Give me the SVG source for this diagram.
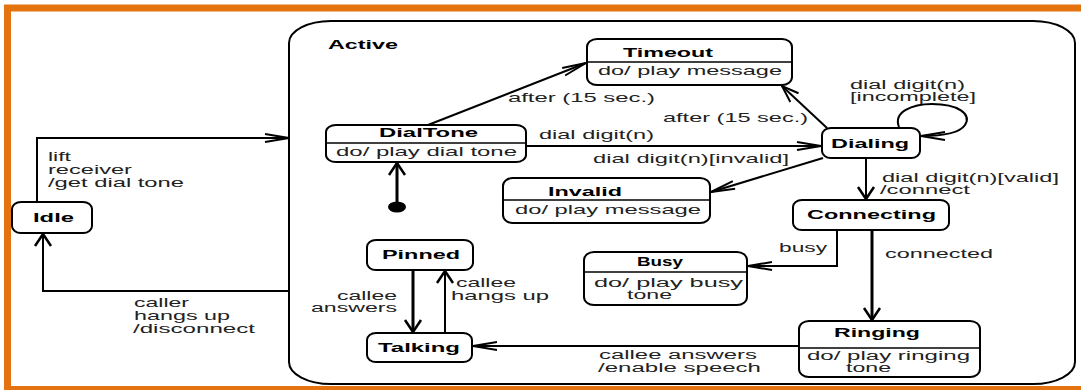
<svg xmlns="http://www.w3.org/2000/svg" width="1081" height="390" viewBox="0 0 1081 390">
  <style>
    text { font-family: "Liberation Sans", Arial, sans-serif; font-size: 13px; }
    .lbl { fill: #222; }
    .sm { font-size: 12px; }
    .nm { font-weight: bold; fill: #000; }
    .box { fill: #fff; stroke: #000; stroke-width: 2; }
    .div { stroke: #000; stroke-width: 1.5; }
    .edge { fill: none; stroke: #000; stroke-width: 2; }
    .thick { stroke-width: 3; }
  </style>
  <defs>
    <marker id="arrowH" markerUnits="userSpaceOnUse" viewBox="-30 -10 32 20" refX="0" refY="0" markerWidth="32" markerHeight="20" orient="auto">
      <path d="M-24,-4 L0,0 L-24,4" fill="none" stroke="#000" stroke-width="2"/>
    </marker>
    <marker id="arrowD" markerUnits="userSpaceOnUse" viewBox="-30 -10 32 20" refX="0" refY="0" markerWidth="32" markerHeight="20" orient="auto">
      <path d="M-17,-6 L0,0 L-17,6" fill="none" stroke="#000" stroke-width="2"/>
    </marker>
    <marker id="arrowV" markerUnits="userSpaceOnUse" viewBox="-30 -10 32 20" refX="0" refY="0" markerWidth="32" markerHeight="20" orient="auto">
      <path d="M-12,-8 L0,0 L-12,8" fill="none" stroke="#000" stroke-width="2.5"/>
    </marker>
  </defs>

  <rect width="1081" height="390" fill="#fff"/>
  <!-- outer frame -->
  <rect x="7.5" y="8" width="1100" height="381.5" fill="none" stroke="#e3720f" stroke-width="7"/>

  <!-- composite state -->
  <g id="active">
    <rect x="289" y="21" width="786" height="363" rx="42" ry="22" fill="none" stroke="#000" stroke-width="2"/>
    <text class="nm" x="328" y="49" textLength="70" lengthAdjust="spacingAndGlyphs">Active</text>
  </g>

  <g id="idle">
    <rect class="box" x="12" y="202" width="80" height="31" rx="9" ry="7"/>
    <text class="nm" x="33" y="222" textLength="41" lengthAdjust="spacingAndGlyphs">Idle</text>
  </g>

  <g id="dialtone">
    <rect class="box" x="326" y="125" width="200" height="37" rx="10" ry="7"/>
    <line class="div" x1="326" y1="143" x2="526" y2="143"/>
    <text class="nm" x="379" y="137" textLength="99" lengthAdjust="spacingAndGlyphs">DialTone</text>
    <text class="lbl" x="336" y="156" textLength="181" lengthAdjust="spacingAndGlyphs">do/ play dial tone</text>
  </g>

  <g id="initial">
    <ellipse cx="397" cy="207" rx="9" ry="5.5" fill="#000"/>
  </g>

  <g id="timeout">
    <rect class="box" x="587" y="39" width="205" height="46" rx="10" ry="8"/>
    <line class="div" x1="587" y1="62" x2="792" y2="62"/>
    <text class="nm" x="623" y="57" textLength="90" lengthAdjust="spacingAndGlyphs">Timeout</text>
    <text class="lbl" x="598" y="75" textLength="184" lengthAdjust="spacingAndGlyphs">do/ play message</text>
  </g>

  <g id="dialing">
    <rect class="box" x="822" y="128" width="98" height="30" rx="9" ry="7"/>
    <text class="nm" x="831" y="148" textLength="78" lengthAdjust="spacingAndGlyphs">Dialing</text>
  </g>

  <g id="invalid">
    <rect class="box" x="503" y="178" width="207" height="45" rx="10" ry="8"/>
    <line class="div" x1="503" y1="200" x2="710" y2="200"/>
    <text class="nm" x="548" y="196" textLength="74" lengthAdjust="spacingAndGlyphs">Invalid</text>
    <text class="lbl" x="515" y="214" textLength="186" lengthAdjust="spacingAndGlyphs">do/ play message</text>
  </g>

  <g id="connecting">
    <rect class="box" x="793" y="200" width="156" height="30" rx="9" ry="7"/>
    <text class="nm" x="807" y="219" textLength="129" lengthAdjust="spacingAndGlyphs">Connecting</text>
  </g>

  <g id="busy">
    <rect class="box" x="584" y="252" width="163" height="53" rx="10" ry="8"/>
    <line class="div" x1="584" y1="272" x2="747" y2="272"/>
    <text class="nm" x="637" y="266" textLength="46" lengthAdjust="spacingAndGlyphs">Busy</text>
    <text class="lbl sm" x="594" y="287" textLength="149" lengthAdjust="spacingAndGlyphs">do/ play busy</text>
    <text class="lbl sm" x="627" y="299" textLength="45" lengthAdjust="spacingAndGlyphs">tone</text>
  </g>

  <g id="ringing">
    <rect class="box" x="799" y="321" width="181" height="56" rx="10" ry="8"/>
    <line class="div" x1="799" y1="348" x2="980" y2="348"/>
    <text class="nm" x="834" y="337" textLength="86" lengthAdjust="spacingAndGlyphs">Ringing</text>
    <text class="lbl sm" x="807" y="360" textLength="163" lengthAdjust="spacingAndGlyphs">do/ play ringing</text>
    <text class="lbl sm" x="846" y="372" textLength="45" lengthAdjust="spacingAndGlyphs">tone</text>
  </g>

  <g id="pinned">
    <rect class="box" x="367" y="240" width="106" height="30" rx="9" ry="7"/>
    <text class="nm" x="382" y="259" textLength="78" lengthAdjust="spacingAndGlyphs">Pinned</text>
  </g>

  <g id="talking">
    <rect class="box" x="367" y="333" width="105" height="29" rx="9" ry="7"/>
    <text class="nm" x="378" y="352" textLength="82" lengthAdjust="spacingAndGlyphs">Talking</text>
  </g>

  <g id="connectors">
    <!-- Idle -> Active -->
    <path class="edge" d="M37,202 V138 H289" marker-end="url(#arrowH)"/>
    <text class="lbl" x="48" y="161" textLength="23" lengthAdjust="spacingAndGlyphs">lift</text>
    <text class="lbl" x="48" y="174" textLength="84" lengthAdjust="spacingAndGlyphs">receiver</text>
    <text class="lbl" x="48" y="187" textLength="136" lengthAdjust="spacingAndGlyphs">/get dial tone</text>

    <!-- Active -> Idle -->
    <path class="edge" d="M289,291 H43 V234" marker-end="url(#arrowV)"/>
    <text class="lbl" x="134" y="307" textLength="55" lengthAdjust="spacingAndGlyphs">caller</text>
    <text class="lbl" x="134" y="320" textLength="96" lengthAdjust="spacingAndGlyphs">hangs up</text>
    <text class="lbl" x="133" y="333" textLength="122" lengthAdjust="spacingAndGlyphs">/disconnect</text>

    <!-- initial -> DialTone -->
    <path class="edge thick" d="M397,207 V163" marker-end="url(#arrowV)"/>

    <!-- DialTone -> Timeout -->
    <path class="edge" d="M428,125 L586,63" marker-end="url(#arrowH)"/>
    <text class="lbl" x="508" y="102" textLength="147" lengthAdjust="spacingAndGlyphs">after (15 sec.)</text>

    <!-- Dialing -> Timeout -->
    <path class="edge" d="M827,128 L782,86" marker-end="url(#arrowD)"/>
    <text class="lbl" x="663" y="122" textLength="145" lengthAdjust="spacingAndGlyphs">after (15 sec.)</text>

    <!-- DialTone -> Dialing -->
    <path class="edge" d="M526,146 H821" marker-end="url(#arrowH)"/>
    <text class="lbl" x="539" y="139" textLength="115" lengthAdjust="spacingAndGlyphs">dial digit(n)</text>
    <text class="lbl" x="593" y="163" textLength="196" lengthAdjust="spacingAndGlyphs">dial digit(n)[invalid]</text>

    <!-- Dialing self transition -->
    <path class="edge" d="M899,127 C893,112 912,104 932,104 C958,104 972,114 965,125 C959,134 941,136 921,136" marker-end="url(#arrowH)"/>
    <text class="lbl sm" x="850" y="89" textLength="115" lengthAdjust="spacingAndGlyphs">dial digit(n)</text>
    <text class="lbl sm" x="850" y="101" textLength="126" lengthAdjust="spacingAndGlyphs">[incomplete]</text>

    <!-- Dialing -> Invalid -->
    <path class="edge" d="M823,158 L711,192" marker-end="url(#arrowH)"/>

    <!-- Dialing -> Connecting -->
    <path class="edge" d="M866,158 V199" marker-end="url(#arrowV)"/>
    <text class="lbl sm" x="882" y="182" textLength="177" lengthAdjust="spacingAndGlyphs">dial digit(n)[valid]</text>
    <text class="lbl sm" x="880" y="194" textLength="90" lengthAdjust="spacingAndGlyphs">/connect</text>

    <!-- Connecting -> Busy -->
    <path class="edge" d="M837,230 V266 H748" marker-end="url(#arrowH)"/>
    <text class="lbl" x="779" y="252" textLength="48" lengthAdjust="spacingAndGlyphs">busy</text>

    <!-- Connecting -> Ringing -->
    <path class="edge thick" d="M872,230 V320" marker-end="url(#arrowV)"/>
    <text class="lbl" x="885" y="258" textLength="108" lengthAdjust="spacingAndGlyphs">connected</text>

    <!-- Ringing -> Talking -->
    <path class="edge" d="M799,346 H473" marker-end="url(#arrowH)"/>
    <text class="lbl sm" x="599" y="359" textLength="158" lengthAdjust="spacingAndGlyphs">callee answers</text>
    <text class="lbl sm" x="598" y="372" textLength="163" lengthAdjust="spacingAndGlyphs">/enable speech</text>

    <!-- Pinned -> Talking -->
    <path class="edge thick" d="M413,270 V332" marker-end="url(#arrowV)"/>
    <text class="lbl sm" x="337" y="300" textLength="60" lengthAdjust="spacingAndGlyphs">callee</text>
    <text class="lbl sm" x="311" y="312" textLength="86" lengthAdjust="spacingAndGlyphs">answers</text>

    <!-- Talking -> Pinned -->
    <path class="edge" d="M445,333 V271" marker-end="url(#arrowV)"/>
    <text class="lbl" x="456" y="287" textLength="60" lengthAdjust="spacingAndGlyphs">callee</text>
    <text class="lbl" x="451" y="300" textLength="98" lengthAdjust="spacingAndGlyphs">hangs up</text>
  </g>
</svg>
